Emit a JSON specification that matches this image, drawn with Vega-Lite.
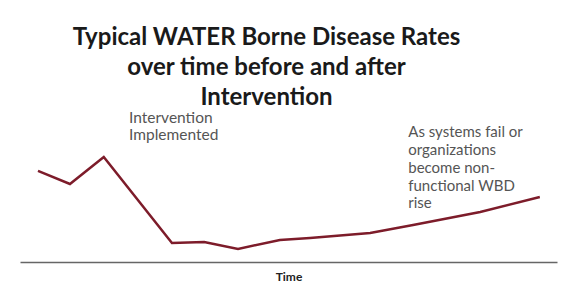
{
  "$schema": "https://vega.github.io/schema/vega-lite/v6.json",
  "autosize": "none",
  "width": 537,
  "height": 152,
  "padding": {"left": 20, "top": 110, "right": 10, "bottom": 32},
  "background": "white",
  "config": {"view": {"stroke": null}, "font": "Lato"},
  "title": {
    "text": ["Typical WATER Borne Disease Rates", "over time before and after", "Intervention"],
    "font": "Lato",
    "fontSize": 24,
    "fontWeight": "bold",
    "color": "#1a1a1a",
    "anchor": "middle",
    "lineHeight": 30,
    "offset": 0,
    "dx": -22
  },
  "datasets": {
    "rates": [
      {"t": 3.35, "v": 59.9},
      {"t": 9.3, "v": 51.3},
      {"t": 15.6, "v": 69.1},
      {"t": 28.3, "v": 12.5},
      {"t": 34.3, "v": 13.2},
      {"t": 40.6, "v": 8.6},
      {"t": 48.4, "v": 14.5},
      {"t": 54.0, "v": 15.8},
      {"t": 65.2, "v": 19.1},
      {"t": 73.2, "v": 24.3},
      {"t": 85.7, "v": 32.9},
      {"t": 96.8, "v": 42.8}
    ],
    "note1": [
      {"t": 20.3, "v": 99.5, "label": "Intervention\nImplemented"}
    ],
    "note2": [
      {"t": 72.3, "v": 90, "label": "As systems fail or\norganizations\nbecome non-\nfunctional WBD\nrise"}
    ]
  },
  "layer": [
    {
      "data": {"name": "rates"},
      "mark": {"type": "line", "color": "#7d1c2a", "strokeWidth": 2.5},
      "encoding": {
        "x": {"field": "t", "type": "quantitative", "scale": {"domain": [0, 100]},
          "axis": {"title": "Time", "labels": false, "ticks": false, "grid": false, "domainColor": "#666", "domainWidth": 1.5,
            "titleFont": "Lato", "titleFontSize": 12, "titleFontWeight": "bold", "titleColor": "#222", "titlePadding": 9}},
        "y": {"field": "v", "type": "quantitative", "scale": {"domain": [0, 100]}, "axis": null}
      }
    },
    {
      "data": {"name": "note1"},
      "mark": {"type": "text", "align": "left", "baseline": "top", "lineBreak": "\n", "lineHeight": 17.5, "fontSize": 15.5, "color": "#555", "font": "Lato"},
      "encoding": {
        "x": {"field": "t", "type": "quantitative"},
        "y": {"field": "v", "type": "quantitative"},
        "text": {"field": "label"}
      }
    },
    {
      "data": {"name": "note2"},
      "mark": {"type": "text", "align": "left", "baseline": "top", "lineBreak": "\n", "lineHeight": 17.8, "fontSize": 15, "color": "#555", "font": "Lato"},
      "encoding": {
        "x": {"field": "t", "type": "quantitative"},
        "y": {"field": "v", "type": "quantitative"},
        "text": {"field": "label"}
      }
    }
  ]
}
